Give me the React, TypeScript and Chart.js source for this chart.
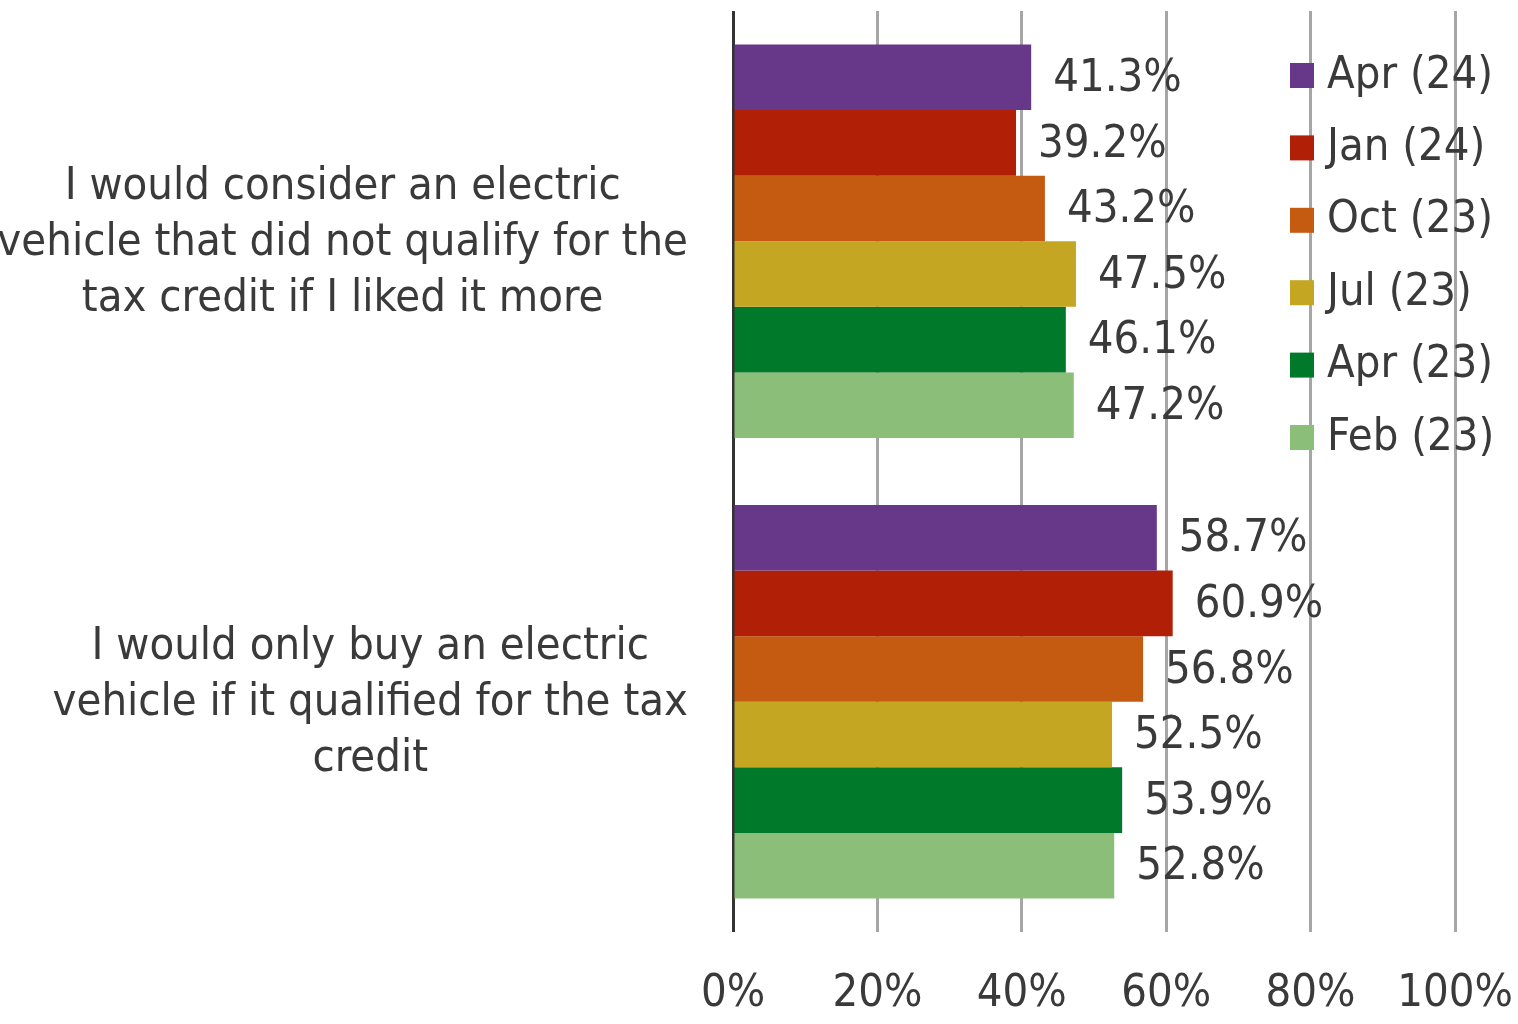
import React, { useEffect, useRef } from "react";
import { Chart, registerables } from "chart.js";

Chart.register(...registerables);

const categories: string[][] = [
  ["I would consider an electric", "vehicle that did not qualify for the", "tax credit if I liked it more"],
  ["I would only buy an electric", "vehicle if it qualified for the tax", "credit"],
];
const seriesNames = ["Apr (24)", "Jan (24)", "Oct (23)", "Jul (23)", "Apr (23)", "Feb (23)"];
const seriesColors = ["#67378A", "#B21F07", "#C55A11", "#C4A622", "#007A2A", "#8BBE78"];
const apr24 = [41.3, 58.7];
const jan24 = [39.2, 60.9];
const oct23 = [43.2, 56.8];
const jul23 = [47.5, 52.5];
const apr23 = [46.1, 53.9];
const feb23 = [47.2, 52.8];
const seriesValues = [apr24, jan24, oct23, jul23, apr23, feb23];
const xTicks = [0, 20, 40, 60, 80, 100];

const FONT = "'DejaVu Sans Condensed', 'DejaVu Sans', sans-serif";
const FS = 45;
const TEXT = "#3A3A3A";

const overlayPlugin = {
  id: "overlay",
  afterDatasetsDraw(chart: any) {
    const ctx = chart.ctx;
    ctx.save();
    ctx.font = `${FS}px ${FONT}`;
    ctx.fillStyle = TEXT;
    ctx.textAlign = "left";
    ctx.textBaseline = "middle";
    chart.data.datasets.forEach((ds: any, di: number) => {
      const meta = chart.getDatasetMeta(di);
      meta.data.forEach((bar: any, i: number) => {
        ctx.fillText(ds.data[i].toFixed(1) + "%", bar.x + 22, bar.y + 2);
      });
    });
    ctx.restore();
  },
  afterDraw(chart: any) {
    const ctx = chart.ctx;
    const area = chart.chartArea;
    const yScale = chart.scales.y;
    ctx.save();
    ctx.font = `${FS}px ${FONT}`;
    ctx.fillStyle = TEXT;
    ctx.textBaseline = "middle";
    ctx.textAlign = "center";
    const rightEdge = area.left - 45;
    const lineH = 56;
    categories.forEach((lines, i) => {
      const cy = yScale.getPixelForValue(i) + 2;
      const maxW = Math.max(...lines.map((l) => ctx.measureText(l).width));
      const cx = rightEdge - maxW / 2;
      lines.forEach((l, j) => {
        ctx.fillText(l, cx, cy + (j - (lines.length - 1) / 2) * lineH);
      });
    });
    const lx = area.right - 165;
    const ly0 = area.top + 64;
    const step = 72.4;
    chart.data.datasets.forEach((ds: any, di: number) => {
      const y = ly0 + di * step;
      ctx.fillStyle = ds.backgroundColor;
      ctx.fillRect(lx, y - 12, 24, 25);
      ctx.fillStyle = TEXT;
      ctx.textAlign = "left";
      ctx.fillText(ds.label, lx + 37, y + 1);
    });
    ctx.restore();
  },
};

export default function App() {
  const ref = useRef<HTMLCanvasElement | null>(null);
  useEffect(() => {
    if (!ref.current) return;
    const chart = new Chart(ref.current, {
      type: "bar",
      data: {
        labels: categories.map((c) => c.join(" ")),
        datasets: seriesNames.map((name, i) => ({
          label: name,
          data: seriesValues[i],
          backgroundColor: seriesColors[i],
          borderWidth: 0,
          barPercentage: 1,
          categoryPercentage: 0.855,
        })),
      },
      options: {
        indexAxis: "y",
        animation: false,
        responsive: false,
        maintainAspectRatio: false,
        layout: { padding: { left: 0, right: 63, top: 11, bottom: 0 } },
        plugins: { legend: { display: false }, tooltip: { enabled: false } },
        scales: {
          x: {
            min: 0,
            max: 100,
            afterBuildTicks: (scale: any) => {
              scale.ticks = xTicks.map((v) => ({ value: v }));
            },
            afterFit: (scale: any) => {
              scale.height = 92;
              scale.paddingLeft = 0;
              scale.paddingRight = 0;
            },
            ticks: {
              callback: (v: any) => v + "%",
              color: TEXT,
              font: { size: FS, family: FONT },
              padding: 35,
              maxRotation: 0,
            },
            grid: {
              color: (c: any) => (c.tick && c.tick.value === 0 ? "#333333" : "#A6A6A6"),
              lineWidth: 3,
              drawTicks: false,
            },
            border: { display: false },
          },
          y: {
            afterFit: (scale: any) => {
              scale.width = 733;
            },
            ticks: { display: false },
            grid: { display: false },
            border: { display: false },
          },
        },
      },
      plugins: [overlayPlugin],
    });
    return () => chart.destroy();
  }, []);
  return (
    <div style={{ position: "fixed", left: 0, top: 0, width: 1518, height: 1024, background: "#fff" }}>
      <canvas ref={ref} width={1518} height={1024} style={{ width: 1518, height: 1024 }} />
    </div>
  );
}
